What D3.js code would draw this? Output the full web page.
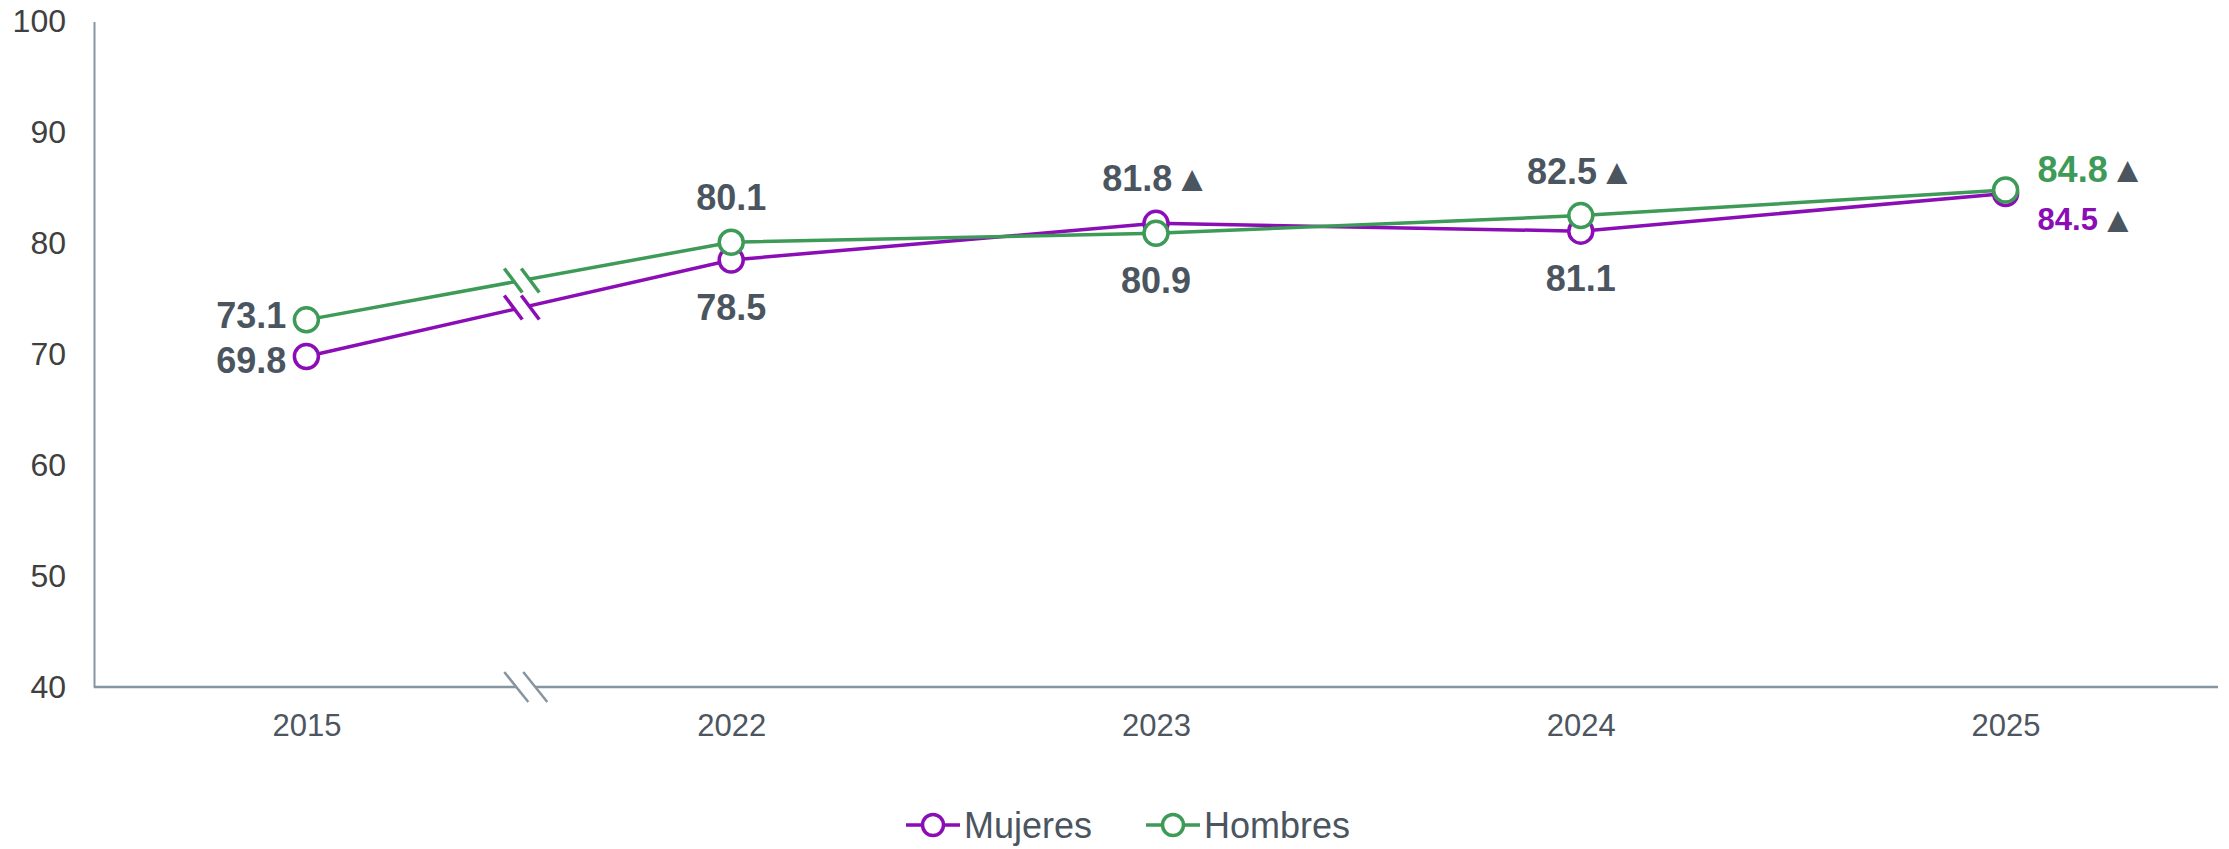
<!DOCTYPE html>
<html>
<head>
<meta charset="utf-8">
<script src="https://cdn.jsdelivr.net/npm/d3@7"></script>
<style>
  html, body { margin: 0; padding: 0; background: #ffffff; }
  svg { display: block; }
  text { font-family: "Liberation Sans", Arial, sans-serif; }
</style>
</head>
<body>
<svg id="chart" width="2229" height="849"></svg>
<script>
// ---- data ----
const years = ["2015", "2022", "2023", "2024", "2025"];
const mujeres = [69.8, 78.5, 81.8, 81.1, 84.5];
const hombres = [73.1, 80.1, 80.9, 82.5, 84.8];
const yTicks = [40, 50, 60, 70, 80, 90, 100];
const mujeresUp = [false, false, true, false, true];
const hombresUp = [false, false, false, true, true];
const seriesNames = ["Mujeres", "Hombres"];

(function () {
// ---- style ----
const colPurple = "#8a0db5";
const colGreen = "#3d9a57";
const colLabel = "#4b5560";
const colAxis = "#8795a1";

const svg = d3.select("#chart");
const mLeft = 94, mRight = 2218, mTop = 21.5, mBottom = 687;

const x = d3.scalePoint().domain(years).range([mLeft, mRight]).padding(0.5);
const y = d3.scaleLinear().domain([40, 100]).range([mBottom, mTop]);

// y axis
const yAxis = d3.axisLeft(y).tickValues(yTicks).tickSize(0).tickPadding(28).tickFormat(d3.format("d"));
const gy = svg.append("g").attr("transform", `translate(${mLeft},0)`).call(yAxis);
gy.select(".domain").attr("stroke", colAxis).attr("stroke-width", 2);
gy.selectAll("text").attr("font-size", 32).attr("fill", "#404040")
  .attr("font-family", "'Liberation Sans', Arial, sans-serif");

// x axis
const xAxis = d3.axisBottom(x).tickSize(0).tickPadding(27);
const gx = svg.append("g").attr("transform", `translate(0,${mBottom})`).call(xAxis);
gx.select(".domain").attr("stroke", colAxis).attr("stroke-width", 2.5)
  .attr("d", `M${mLeft},0H${mRight}`);
gx.selectAll("text").attr("font-size", 31).attr("fill", "#4d5660")
  .attr("font-family", "'Liberation Sans', Arial, sans-serif")
  .attr("dy", "0.71em");

// break position between first two categories
const breakX = (x(years[0]) + x(years[1])) / 2;

function drawBreak(cx, cy, halfH, dx, gap, color, sw) {
  const g = svg.append("g");
  g.append("polygon")
    .attr("points", [
      [cx - gap / 2 - dx * 0.6, cy - halfH * 0.6],
      [cx + gap / 2 - dx * 0.6, cy - halfH * 0.6],
      [cx + gap / 2 + dx * 0.6, cy + halfH * 0.6],
      [cx - gap / 2 + dx * 0.6, cy + halfH * 0.6]
    ].map(p => p.join(",")).join(" "))
    .attr("fill", "#ffffff");
  [-gap / 2, gap / 2].forEach(o => {
    g.append("line")
      .attr("x1", cx + o - dx).attr("y1", cy - halfH)
      .attr("x2", cx + o + dx).attr("y2", cy + halfH)
      .attr("stroke", color).attr("stroke-width", sw);
  });
}

// axis break
drawBreak(breakX + 7, mBottom, 15, 12, 19, colAxis, 2.5);

// lines
const line = d3.line().x((d, i) => x(years[i])).y(d => y(d));

const series = [
  { name: "Mujeres", vals: mujeres, color: colPurple, up: mujeresUp },
  { name: "Hombres", vals: hombres, color: colGreen, up: hombresUp }
];

series.forEach(s => {
  svg.append("path").datum(s.vals)
    .attr("d", line).attr("fill", "none")
    .attr("stroke", s.color).attr("stroke-width", 3.5);
  const bx = breakX + 3;
  const y0 = y(s.vals[0]), y1 = y(s.vals[1]);
  const x0 = x(years[0]), x1 = x(years[1]);
  const by = y0 + (y1 - y0) * (bx - x0) / (x1 - x0);
  drawBreak(bx, by, 12, 9, 17, s.color, 3.5);
});

series.forEach(s => {
  svg.append("g").selectAll("circle").data(s.vals).join("circle")
    .attr("cx", (d, i) => x(years[i])).attr("cy", d => y(d))
    .attr("r", 12).attr("fill", "#ffffff")
    .attr("stroke", s.color).attr("stroke-width", 3.5);
});

// labels
const place = {
  Mujeres: ["left", "below", "above", "below", "rightLow"],
  Hombres: ["left", "above", "below", "above", "rightHigh"]
};

function addLabel(px, py, val, pos, up, color, size, nudge) {
  let tx, ty, anchor;
  if (pos === "left") { tx = px - 20; ty = py + nudge; anchor = "end"; }
  else if (pos === "above") { tx = px; ty = py - 45; anchor = "middle"; }
  else if (pos === "below") { tx = px; ty = py + 47; anchor = "middle"; }
  else if (pos === "rightHigh") { tx = px + 32; ty = py - 21; anchor = "start"; }
  else { tx = px + 32; ty = py + 26; anchor = "start"; }
  const t = svg.append("text")
    .attr("x", tx).attr("y", ty)
    .attr("text-anchor", anchor)
    .attr("dominant-baseline", "central")
    .attr("font-size", size).attr("font-weight", "bold");
  t.append("tspan").attr("fill", color).text(d3.format(".1f")(val));
  if (up) {
    t.append("tspan").attr("fill", colLabel).attr("dx", 2)
      .attr("font-size", 36).text("▲");
  }
}

series.forEach(s => {
  s.vals.forEach((v, i) => {
    const pos = place[s.name][i];
    const last = i === years.length - 1;
    const color = last ? s.color : colLabel;
    const size = (last && s.name === "Mujeres") ? 31 : 36;
    const nudge = s.name === "Hombres" ? -5 : 4;
    addLabel(x(years[i]), y(v), v, pos, s.up[i], color, size, nudge);
  });
});

// legend
const legY = 825;
const legend = [
  { name: seriesNames[0], color: colPurple, x0: 906 },
  { name: seriesNames[1], color: colGreen, x0: 1146 }
];
legend.forEach(l => {
  const g = svg.append("g");
  g.append("line").attr("x1", l.x0).attr("x2", l.x0 + 54)
    .attr("y1", legY).attr("y2", legY)
    .attr("stroke", l.color).attr("stroke-width", 3.5);
  g.append("circle").attr("cx", l.x0 + 27).attr("cy", legY).attr("r", 10.5)
    .attr("fill", "#ffffff").attr("stroke", l.color).attr("stroke-width", 3.5);
  g.append("text").attr("x", l.x0 + 58).attr("y", legY)
    .attr("dominant-baseline", "central")
    .attr("font-size", 36).attr("fill", colLabel).text(l.name);
});
})();
</script>
</body>
</html>
